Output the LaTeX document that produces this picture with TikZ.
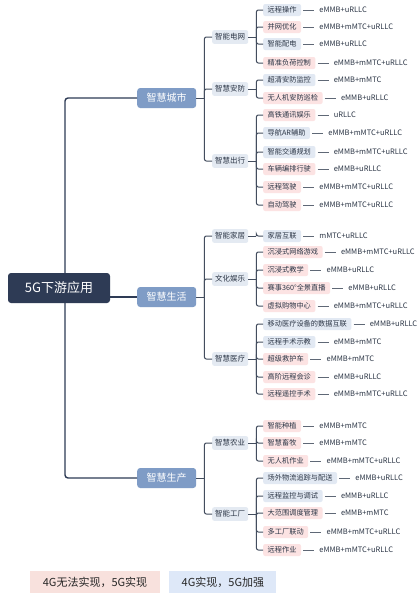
\documentclass[tikz,border=0pt]{standalone}
\usepackage{fontspec}
\setmainfont{Noto Sans CJK SC}
\usetikzlibrary{positioning}
\definecolor{rootblue}{HTML}{2E3B55}
\definecolor{mainblue}{HTML}{7F9CC6}
\definecolor{subgray}{HTML}{E4EAF2}
\definecolor{newpink}{HTML}{FCE3E3}
\definecolor{oldblue}{HTML}{E2E9F3}
\definecolor{linegray}{HTML}{434D5E}
\definecolor{textgray}{HTML}{2C3646}
\definecolor{keypink}{HTML}{F8E1DD}
\definecolor{keyblue}{HTML}{DEE8F8}
% one application: box, its 5G technologies, and the link from its scenario
\newcommand{\leaf}[6]{%
  \node[#4, anchor=west] (#2) at (263,#3) {#5};
  \node[tech, right=16pt of #2] (#2-t) {#6};
  \draw[techline] (#2.east) -- (#2-t.west);
  \draw[link] (#1.east) -- ++(8,0);
  \draw[link, rounded corners=2pt] ([xshift=8pt]#1.east) |- (#2.west);
}

\begin{document}
\begin{tikzpicture}[x=1pt, y=-1pt,
    root/.style={fill=rootblue, text=white, rounded corners=3pt, minimum width=102pt,
      minimum height=30pt, font=\fontsize{13}{15}\selectfont},
    main/.style={fill=mainblue, text=white, rounded corners=3pt, minimum width=59pt,
      minimum height=20pt, font=\fontsize{10}{12}\selectfont, anchor=west},
    sub/.style={fill=subgray, text=textgray, rounded corners=2pt, minimum width=36pt,
      minimum height=13pt, inner xsep=3pt, font=\fontsize{7.5}{9}\selectfont, anchor=west},
    leafbox/.style={rounded corners=2pt, text=textgray, minimum height=12pt, inner xsep=4.5pt,
      inner ysep=1pt, font=\fontsize{7.2}{9}\selectfont},
    newuse/.style={leafbox, fill=newpink},
    oldplus/.style={leafbox, fill=oldblue},
    tech/.style={text=textgray, inner sep=2pt, font=\fontsize{7.5}{9}\selectfont},
    link/.style={draw=linegray, line width=1pt},
    trunk/.style={draw=rootblue, line width=1.4pt},
    techline/.style={draw=linegray!85, line width=0.9pt, shorten <=2pt, shorten >=3pt},
    key/.style={text=black!85, minimum height=22pt, font=\fontsize{11}{13}\selectfont}]
  \fill[white] (0,0) rectangle (417,600);
  \useasboundingbox (0,0) rectangle (417,600);

  \node[root] (app) at (59,288) {5G下游应用};
  \node[main] (city) at (137,98) {智慧城市};
  \node[main] (life) at (137,297) {智慧生活};
  \node[main] (prod) at (137,478) {智慧生产};
  \draw[trunk, rounded corners=3pt] ([xshift=6pt]app.north) |- (city.west);
  \draw[trunk, rounded corners=3pt] ([xshift=6pt]app.south) |- (prod.west);
  \draw[trunk] (app.east |- life.west) -- (life.west);

  \node[sub] (grid) at (212,37) {智能电网};
  \node[sub] (secur) at (212,89) {智慧安防};
  \node[sub] (travel) at (212,161) {智慧出行};
  \node[sub] (home) at (212,236) {智能家居};
  \node[sub] (culture) at (212,279) {文化娱乐};
  \node[sub] (health) at (212,359) {智慧医疗};
  \node[sub] (farm) at (212,443) {智慧农业};
  \node[sub] (factory) at (212,514) {智能工厂};
  \draw[link] (city.east) -- ++(8,0);
  \draw[link] (life.east) -- ++(8,0);
  \draw[link] (prod.east) -- ++(8,0);
  \foreach \c in {grid,secur,travel}
    \draw[link, rounded corners=2pt] ([xshift=8pt]city.east) |- (\c.west);
  \foreach \c in {home,culture,health}
    \draw[link, rounded corners=2pt] ([xshift=8pt]life.east) |- (\c.west);
  \foreach \c in {farm,factory}
    \draw[link, rounded corners=2pt] ([xshift=8pt]prod.east) |- (\c.west);

  % smart city
  \leaf{grid}{remoteop}{10}{oldplus}{远程操作}{eMMB+uRLLC}
  \leaf{grid}{gridopt}{27}{newuse}{并网优化}{eMMB+mMTC+uRLLC}
  \leaf{grid}{distrib}{44}{oldplus}{智能配电}{eMMB+uRLLC}
  \leaf{grid}{loadctl}{63}{newuse}{精准负荷控制}{eMMB+mMTC+uRLLC}
  \leaf{secur}{hdcam}{80}{oldplus}{超清安防监控}{eMMB+mMTC}
  \leaf{secur}{patrol}{98}{newuse}{无人机安防巡检}{eMMB+uRLLC}
  \leaf{travel}{rail}{115}{newuse}{高铁通讯娱乐}{uRLLC}
  \leaf{travel}{arnav}{133}{oldplus}{导航AR辅助}{eMMB+mMTC+uRLLC}
  \leaf{travel}{traffic}{152}{oldplus}{智能交通规划}{eMMB+mMTC+uRLLC}
  \leaf{travel}{platoon}{169}{newuse}{车辆编排行驶}{eMMB+uRLLC}
  \leaf{travel}{rdrive}{187}{newuse}{远程驾驶}{eMMB+mMTC+uRLLC}
  \leaf{travel}{adrive}{205}{newuse}{自动驾驶}{eMMB+mMTC+uRLLC}
  % smart life
  \leaf{home}{homenet}{236}{oldplus}{家居互联}{mMTC+uRLLC}
  \leaf{culture}{game}{252}{newuse}{沉浸式网络游戏}{eMMB+mMTC+uRLLC}
  \leaf{culture}{teach}{270}{newuse}{沉浸式教学}{eMMB+uRLLC}
  \leaf{culture}{live}{288}{newuse}{赛事360°全景直播}{eMMB+uRLLC}
  \leaf{culture}{shop}{306}{newuse}{虚拟购物中心}{eMMB+mMTC+uRLLC}
  \leaf{health}{meddata}{324}{oldplus}{移动医疗设备的数据互联}{eMMB+uRLLC}
  \leaf{health}{surgteach}{342}{oldplus}{远程手术示教}{eMMB+mMTC}
  \leaf{health}{ambul}{359}{newuse}{超级救护车}{eMMB+mMTC}
  \leaf{health}{consult}{377}{newuse}{高阶远程会诊}{eMMB+uRLLC}
  \leaf{health}{surgery}{394}{newuse}{远程遥控手术}{eMMB+mMTC+uRLLC}
  % smart production
  \leaf{farm}{plant}{426}{newuse}{智能种植}{eMMB+mMTC}
  \leaf{farm}{stock}{443}{newuse}{智慧畜牧}{eMMB+mMTC}
  \leaf{farm}{uav}{461}{newuse}{无人机作业}{eMMB+mMTC+uRLLC}
  \leaf{factory}{logist}{478}{oldplus}{场外物流追踪与配送}{eMMB+uRLLC}
  \leaf{factory}{monitor}{496}{oldplus}{远程监控与调试}{eMMB+uRLLC}
  \leaf{factory}{sched}{513}{newuse}{大范围调度管理}{eMMB+mMTC}
  \leaf{factory}{multi}{532}{newuse}{多工厂联动}{eMMB+mMTC+uRLLC}
  \leaf{factory}{rwork}{550}{newuse}{远程作业}{eMMB+mMTC+uRLLC}

  \node[key, fill=keypink, minimum width=130pt] (keynew) at (95,582) {4G无法实现，5G实现};
  \node[key, fill=keyblue, minimum width=107pt, right=9pt of keynew] (keyold) {4G实现，5G加强};
\end{tikzpicture}
\end{document}
